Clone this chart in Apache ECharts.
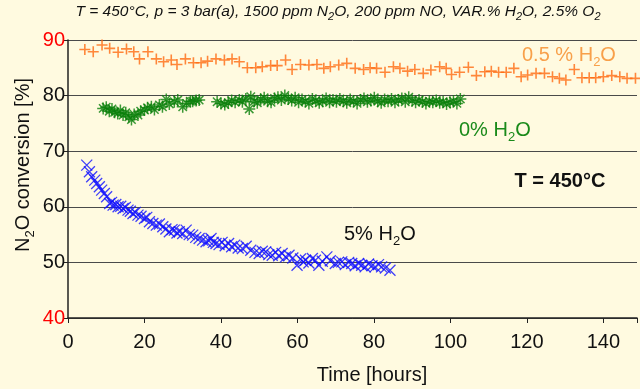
<!DOCTYPE html>
<html>
<head>
<meta charset="utf-8">
<script src="https://cdn.jsdelivr.net/npm/echarts@6/dist/echarts.min.js"></script>
<style>
html,body{margin:0;padding:0;background:#FFFAE0;}
#c{width:640px;height:389px;}
</style>
</head>
<body>
<div id="c"></div>
<script>
// ---- data ----
const xTicks = [0, 20, 40, 60, 80, 100, 120, 140];
const yTicks = [40, 50, 60, 70, 80, 90];

const orangeHours = [4.4,6.6,8.9,10.9,13.1,15.3,17.2,18.7,20.9,23.1,25.0,27.0,28.5,30.7,32.8,34.8,36.5,38.7,40.9,42.9,44.8,46.9,49.1,
  50.8,53.0,54.7,56.9,58.6,60.8,63.0,65.1,66.9,68.6,70.8,72.9,75.1,77.3,79.0,80.7,82.9,85.1,86.8,88.8,90.7,92.9,94.9,97.2,98.9,
  100.3,102.4,104.7,106.8,109.0,110.7,112.6,114.6,116.6,118.5,120.2,122.4,124.6,126.7,128.5,130.2,132.4,134.4,136.3,138.0,140.0,142.2,144.3,146.2,148.4];
const orangeConv = [88.3,87.9,89.1,88.5,87.8,88.4,87.9,86.6,87.9,86.6,86.1,86.4,85.6,86.6,85.9,85.9,86.2,86.6,86.4,86.6,86.1,85.0,85.0,
  85.2,85.4,85.4,86.4,84.7,85.6,85.5,85.6,84.9,85.2,85.5,85.8,84.9,84.7,85.0,84.9,84.2,85.2,84.9,84.4,84.7,84.0,84.6,85.2,84.9,
  83.8,84.2,85.1,83.6,84.3,84.4,84.2,84.2,84.9,83.4,83.7,84.0,84.0,83.4,83.1,82.8,84.7,83.2,83.2,83.2,83.4,83.6,83.4,83.1,83.1];

const greenHours = [9.2,10.0,10.8,11.5,12.2,13.0,13.7,14.4,15.1,15.9,16.6,17.3,18.3,19.0,20.0,20.8,21.8,22.6,23.9,24.7,25.7,26.5,27.8,28.7,30.0,31.0,32.0,32.6,33.5,34.3,
  39.0,40.0,41.0,41.9,42.8,43.7,44.8,45.6,46.5,47.4,47.8,48.7,49.5,50.4,51.3,52.2,53.1,54.0,54.9,55.8,56.7,57.6,58.5,59.4,60.3,61.2,62.1,63.0,63.9,64.8,
  65.7,66.6,67.5,68.4,69.3,70.2,71.1,72.0,72.9,73.8,74.7,75.6,76.5,77.4,78.3,79.2,80.1,81.0,81.9,82.8,83.7,84.6,85.5,86.4,87.3,88.2,89.1,90.0,90.9,91.8,
  92.7,93.6,94.5,95.4,96.3,97.2,98.1,99.0,99.9,100.8,101.7,102.6];
const greenConv = [77.7,77.9,77.2,77.6,77.0,76.8,77.3,76.5,76.9,76.2,75.7,76.6,76.5,77.2,77.4,77.8,78.0,77.5,78.3,78.0,79.3,78.5,78.9,79.2,78.0,78.6,79.0,79.0,79.1,79.2,
  78.9,78.6,78.4,78.7,79.1,78.8,79.2,78.9,79.4,77.6,79.8,79.0,78.7,79.3,79.6,79.0,78.8,79.5,79.7,79.2,80.0,79.4,79.1,79.6,78.8,79.3,79.0,78.6,79.4,79.1,
  78.7,79.0,79.5,78.8,79.2,78.9,79.4,79.0,78.7,79.3,79.0,78.6,79.2,79.5,78.9,79.1,79.6,79.0,78.7,79.3,79.0,79.4,78.8,79.2,79.5,78.9,79.7,79.1,78.8,79.2,
  78.9,78.6,79.0,78.8,79.1,78.7,78.9,78.5,78.8,79.0,78.6,79.4];

const blueHours = [4.9,5.6,6.2,7.0,7.5,8.2,8.8,9.5,10.1,10.9,11.4,11.8,12.5,13.1,13.8,14.4,15.0,15.7,16.3,17.0,17.6,18.3,19.1,20.0,20.6,21.3,22.2,23.1,23.9,24.8,
  25.6,26.5,27.2,27.8,28.5,29.1,30.0,30.9,31.7,32.6,33.4,34.3,35.2,36.1,36.8,37.4,38.0,38.7,39.5,40.3,41.1,42.0,42.8,43.6,44.5,45.6,46.6,47.8,48.9,50.0,
  50.8,51.7,52.5,53.4,54.3,55.1,56.0,56.9,57.8,58.8,59.9,60.8,61.5,62.1,63.0,63.9,64.7,65.6,66.5,67.7,68.6,69.9,70.7,71.6,72.5,73.4,74.2,75.1,76.0,76.8,
  77.7,78.6,79.5,80.3,81.2,82.0,83.0,84.2];
const blueConv = [67.5,66.3,65.4,64.8,64.2,63.6,63.0,62.4,61.8,60.6,60.8,60.3,60.4,60.0,60.1,59.7,59.9,59.4,59.2,58.8,59.0,58.5,58.3,57.9,58.1,57.3,57.0,56.7,56.9,56.4,
  56.0,55.5,55.9,55.8,55.3,55.5,55.2,55.8,55.0,54.9,54.5,54.3,54.0,53.7,53.9,54.3,53.6,53.4,53.2,53.6,53.0,53.4,52.8,53.1,52.6,52.5,52.9,52.2,51.8,51.6,
  52.0,51.9,51.4,51.3,51.8,51.2,51.6,51.0,51.3,50.8,49.5,50.6,50.1,50.4,49.9,50.7,50.4,49.5,50.2,51.0,50.3,49.8,50.0,50.1,49.6,50.0,49.8,49.4,49.8,49.5,
  49.2,49.7,49.4,49.2,49.6,49.2,49.0,48.6];

const zip = (a, b) => a.map((v, i) => [v, b[i]]);
const FONT = 'Liberation Sans, Arial, sans-serif';

const chart = echarts.init(document.getElementById('c'), null, {renderer: 'canvas'});
chart.setOption({
  backgroundColor: '#FFFAE0',
  animation: false,
  grid: {left: 68, right: 0, top: 40, bottom: 71, containLabel: false},
  xAxis: {
    type: 'value', min: 0, max: 148.8, interval: 20,
    axisLine: {lineStyle: {color: '#222', width: 1.5}},
    axisTick: {show: true, length: 5, lineStyle: {color: '#222'}},
    axisLabel: {
      margin: 14, fontSize: 20, fontFamily: FONT, color: '#111',
      formatter: v => (xTicks.indexOf(v) >= 0 ? String(v) : '')
    },
    splitLine: {show: false}
  },
  yAxis: {
    type: 'value', min: 40, max: 90, interval: 10,
    axisLine: {show: true, lineStyle: {color: '#222', width: 1.5}},
    axisTick: {show: true, length: 4, lineStyle: {color: '#222'}},
    axisLabel: {
      margin: 3, fontSize: 20, fontFamily: FONT,
      formatter: v => (v === yTicks[0] || v === yTicks[yTicks.length - 1]) ? '{r|' + v + '}' : '{k|' + v + '}',
      rich: {r: {color: '#FF0000', fontSize: 20, fontFamily: FONT}, k: {color: '#111', fontSize: 20, fontFamily: FONT}}
    },
    splitLine: {show: true, lineStyle: {color: '#4a4a4a', width: 1}}
  },
  series: [
    {
      type: 'scatter', data: zip(orangeHours, orangeConv),
      symbol: 'path://M0,5L10,5M5,0L5,10', symbolSize: 11,
      itemStyle: {color: 'rgba(0,0,0,0)', borderColor: '#FF6A10', borderWidth: 1.6}
    },
    {
      type: 'scatter', data: zip(greenHours, greenConv),
      symbol: 'path://M0,5L10,5M5,0L5,10M1.5,1.5L8.5,8.5M8.5,1.5L1.5,8.5', symbolSize: 12,
      itemStyle: {color: 'rgba(0,0,0,0)', borderColor: '#0A7F0A', borderWidth: 1.5}
    },
    {
      type: 'scatter', data: zip(blueHours, blueConv),
      symbol: 'path://M0,0L10,10M10,0L0,10', symbolSize: 11,
      itemStyle: {color: 'rgba(0,0,0,0)', borderColor: '#1010FF', borderWidth: 1.3}
    }
  ],
  graphic: [
    {
      type: 'text', x: 338, y: 13,
      style: {
        text: '{i|T = 450°C, p = 3 bar(a), 1500 ppm N}{s|2}{i|O, 200 ppm NO, VAR.% H}{s|2}{i|O, 2.5% O}{s|2}',
        align: 'center', verticalAlign: 'middle', fill: '#111',
        rich: {
          i: {fontSize: 15.5, fontStyle: 'italic', fontFamily: FONT, lineHeight: 19, verticalAlign: 'top', fill: '#111'},
          s: {fontSize: 11, fontStyle: 'italic', fontFamily: FONT, lineHeight: 11, verticalAlign: 'bottom', fill: '#111'}
        }
      }
    },
    {
      type: 'text', x: 25, y: 165, rotation: Math.PI / 2,
      style: {
        text: '{n|N}{s|2}{n|O conversion [%]}',
        align: 'center', verticalAlign: 'middle',
        rich: {
          n: {fontSize: 20, fontFamily: FONT, lineHeight: 24, verticalAlign: 'top', fill: '#111'},
          s: {fontSize: 13, fontFamily: FONT, lineHeight: 13, verticalAlign: 'bottom', fill: '#111'}
        }
      }
    },
    {
      type: 'text', x: 372, y: 375,
      style: {text: 'Time [hours]', align: 'center', verticalAlign: 'middle', fontSize: 20, fontFamily: FONT, fill: '#111'}
    },
    {
      type: 'text', x: 522, y: 57,
      style: {
        text: '{n|0.5 % H}{s|2}{n|O}', align: 'left', verticalAlign: 'middle',
        rich: {
          n: {fontSize: 20, fontFamily: FONT, lineHeight: 24, verticalAlign: 'top', fill: '#F8A04A'},
          s: {fontSize: 13, fontFamily: FONT, lineHeight: 13, verticalAlign: 'bottom', fill: '#F8A04A'}
        }
      }
    },
    {
      type: 'text', x: 459, y: 132,
      style: {
        text: '{n|0% H}{s|2}{n|O}', align: 'left', verticalAlign: 'middle',
        rich: {
          n: {fontSize: 20, fontFamily: FONT, lineHeight: 24, verticalAlign: 'top', fill: '#1A8A1A'},
          s: {fontSize: 13, fontFamily: FONT, lineHeight: 13, verticalAlign: 'bottom', fill: '#1A8A1A'}
        }
      }
    },
    {
      type: 'text', x: 560, y: 181,
      style: {text: 'T = 450°C', align: 'center', verticalAlign: 'middle', fontSize: 20, fontWeight: 'bold', fontFamily: FONT, fill: '#111'}
    },
    {
      type: 'text', x: 344, y: 236,
      style: {
        text: '{n|5% H}{s|2}{n|O}', align: 'left', verticalAlign: 'middle',
        rich: {
          n: {fontSize: 20, fontFamily: FONT, lineHeight: 24, verticalAlign: 'top', fill: '#111'},
          s: {fontSize: 13, fontFamily: FONT, lineHeight: 13, verticalAlign: 'bottom', fill: '#111'}
        }
      }
    }
  ]
});
</script>
</body>
</html>
